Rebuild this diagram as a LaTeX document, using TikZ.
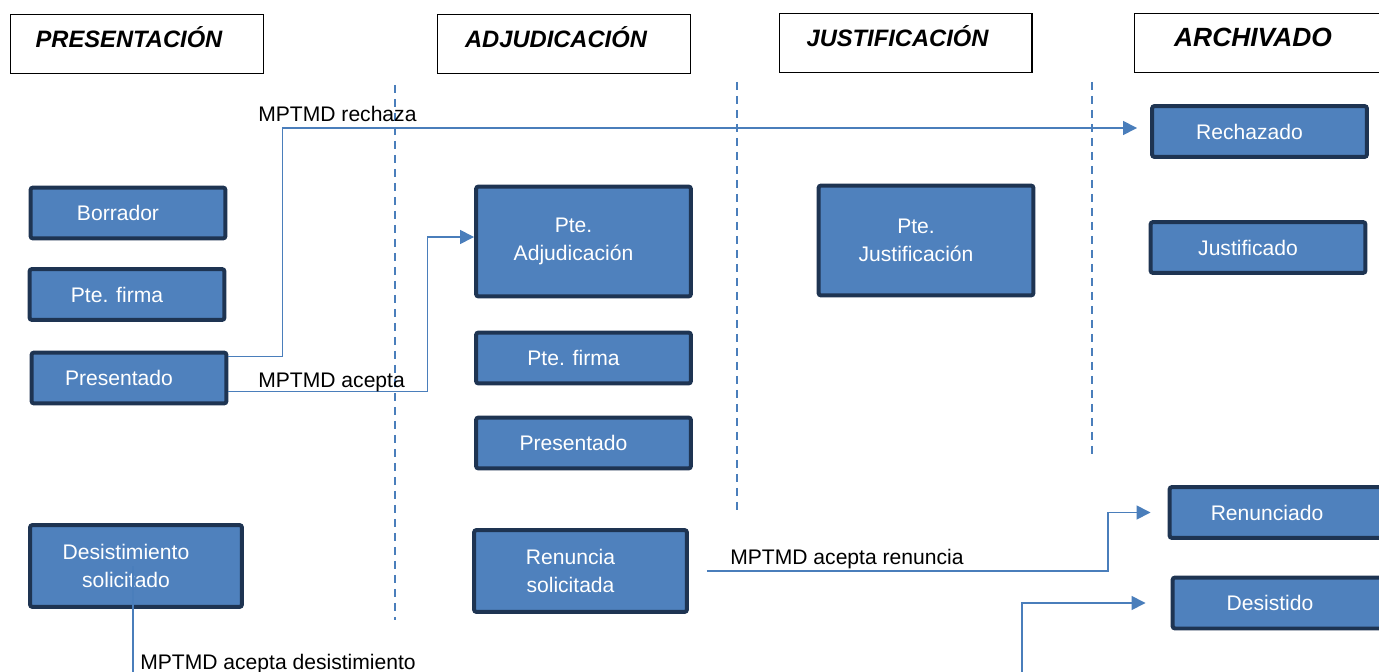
\documentclass[tikz,border=0pt]{standalone}
\usepackage{fontspec}
\setmainfont{Liberation Sans}
\usetikzlibrary{arrows.meta}
\definecolor{azul}{RGB}{79, 129, 189}
\definecolor{marino}{RGB}{30, 52, 82}
\definecolor{linea}{RGB}{74, 126, 187}
\tikzset{
    fase/.style={draw=black, line width=0.6pt, minimum width=5.06cm, minimum height=1.18cm, text height=0.42cm, text depth=0.26cm, font=\bfseries\itshape\fontsize{13.5}{16}\selectfont, execute at end node=\hspace*{0.32cm}},
    estado/.style={draw=marino, fill=azul, text=white, line width=0.08cm, rounded corners=1.5pt, minimum width=4.3cm, minimum height=1.02cm, align=center, font=\fontsize{12}{16}\selectfont, execute at end node=\hspace*{0.4cm}},
    estadoAlto/.style={estado, minimum height=1.64cm},
    sep/.style={linea, line width=0.8pt, dash pattern=on 0.16cm off 0.12cm},
    conn/.style={linea, line width=0.9pt, -{Triangle[length=0.28cm, width=0.28cm]}},
    etiq/.style={anchor=base west, inner sep=0pt, font=\fontsize{12}{14}\selectfont},
}
\begin{document}
\begin{tikzpicture}[x=0.02cm, y=-0.02cm]
    \useasboundingbox (0,0) rectangle (1379,672);
    \clip (0,0) rectangle (1379,672);

    \draw[sep] (395,85) -- (395,620);
    \draw[sep] (737,82) -- (737,510);
    \draw[sep] (1092,82) -- (1092,455);

    \node[fase] (hPres) at (137,44) {PRESENTACIÓN};
    \node[fase] (hAdj) at (564,44) {ADJUDICACIÓN};
    \node[fase] (hJus) at (905.5,43) {JUSTIFICACIÓN};
    \node[fase, font=\bfseries\itshape\fontsize{15}{18}\selectfont] (hArc) at (1261,43) {ARCHIVADO};

    \node[estado, minimum width=3.9cm] (borr) at (128,213) {Borrador};
    \node[estado, minimum width=3.9cm] (firmaP) at (127,294.5) {Pte. firma};
    \node[estado, minimum width=3.9cm] (presP) at (129,378) {Presentado};
    \node[estadoAlto, minimum width=4.24cm] (desisSol) at (136,566) {Desistimiento\\solicitado};

    \node[estado, minimum height=2.2cm] (pteAdj) at (583.5,241.5) {Pte.\\Adjudicación};
    \node[estado] (firmaA) at (583.5,358) {Pte. firma};
    \node[estado] (presA) at (583.5,443) {Presentado};
    \node[estadoAlto, minimum width=4.26cm] (renSol) at (580.5,571) {Renuncia\\solicitada};

    \node[estado, minimum height=2.2cm] (pteJus) at (926,240.5) {Pte.\\Justificación};

    \node[estado] (rech) at (1259.5,131.5) {Rechazado};
    \node[estado] (justif) at (1258,247.5) {Justificado};
    \node[estado] (renun) at (1277,512.5) {Renunciado};
    \node[estado] (desist) at (1280,603) {Desistido};

    \draw[conn, shorten >=0.26cm] ([yshift=-0.12cm]presP.north east) -- ++(54,0) |- ([yshift=0.07cm]rech.west);
    \draw[conn] ([yshift=0.28cm]presP.south east) -- ++(199,0) |- ([yshift=0.09cm]pteAdj.west);
    \draw[conn, shorten >=0.34cm] ([xshift=0.36cm]renSol.east) -- ++(401,0) |- (renun.west);
    \draw[conn, shorten >=0.5cm] ([xshift=-0.06cm]desisSol.center) |- (1022,700) |- (desist.west);

    \node[etiq] (lRech) at (258,122) {MPTMD rechaza};
    \node[etiq] (lAcep) at (258,387) {MPTMD acepta};
    \node[etiq] (lRen) at (730,564) {MPTMD acepta renuncia};
    \node[etiq] (lDes) at (140,669) {MPTMD acepta desistimiento};
\end{tikzpicture}
\end{document}
